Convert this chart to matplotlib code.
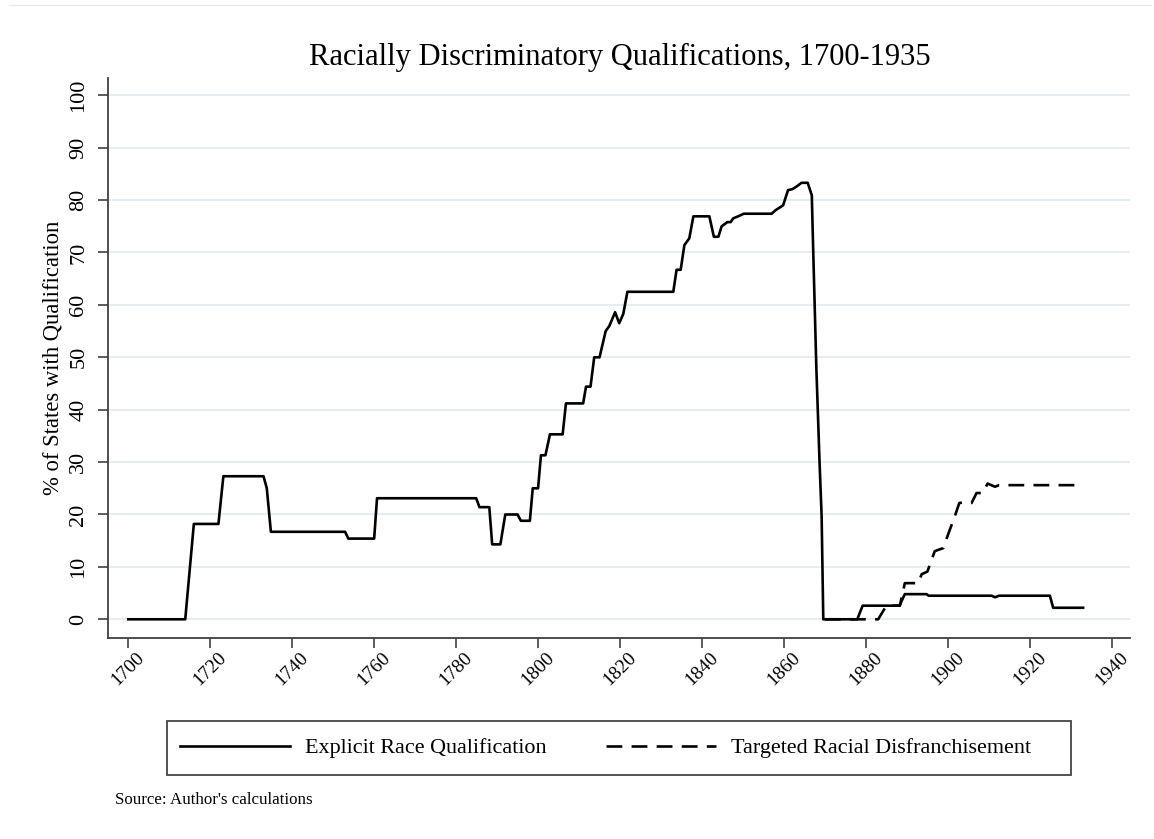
import matplotlib
matplotlib.use("Agg")
import matplotlib.pyplot as plt
from matplotlib.lines import Line2D
from matplotlib.patches import Rectangle

# values
explicit_years = [1700, 1713.9, 1716, 1722, 1723.2, 1733, 1733.8, 1734.8, 1752.9, 1753.7,
                  1760, 1760.7, 1784.9, 1785.7, 1788.1, 1788.8, 1790.8, 1792, 1795, 1795.8,
                  1798, 1798.7, 1800, 1800.7, 1801.8, 1802.9, 1806, 1806.8, 1811, 1811.7,
                  1812.8, 1813.7, 1815, 1816.5, 1817.4, 1818.8, 1819.8, 1820.8, 1821.8, 1833,
                  1833.8, 1834.8, 1835.7, 1836.9, 1837.9, 1841.8, 1842.9, 1844, 1844.8, 1846.2,
                  1847, 1847.6, 1849.1, 1850.2, 1857, 1858, 1859.8, 1861, 1862.1, 1863.1,
                  1864.3, 1865.8, 1866.8, 1867.1, 1867.9, 1868.7, 1869.2, 1869.6, 1877.9, 1879.2,
                  1888.2, 1889.5, 1894.8, 1895.3, 1910.7, 1911.5, 1912.5, 1924.9, 1925.7, 1933]
explicit_pct = [0, 0, 18.2, 18.2, 27.3, 27.3, 25.0, 16.7, 16.7, 15.4,
                15.4, 23.1, 23.1, 21.4, 21.4, 14.3, 14.3, 20.0, 20.0, 18.8,
                18.8, 25.0, 25.0, 31.3, 31.3, 35.3, 35.3, 41.2, 41.2, 44.4,
                44.4, 50.0, 50.0, 55.0, 56.0, 58.6, 56.5, 58.3, 62.5, 62.5,
                66.7, 66.7, 71.4, 72.7, 76.9, 76.9, 73.0, 73.0, 75.0, 75.8,
                75.8, 76.5, 77.0, 77.4, 77.4, 78.1, 79.0, 81.9, 82.1, 82.6,
                83.3, 83.3, 80.9, 71.7, 48.2, 29.8, 19.6, 0, 0, 2.6,
                2.6, 4.8, 4.8, 4.5, 4.5, 4.2, 4.5, 4.5, 2.2, 2.2]

targeted_years = [1870, 1883, 1885, 1888.3, 1889.5, 1892.8, 1893.6, 1895.0, 1896.8, 1898.9,
                  1899.6, 1901.8, 1902.8, 1903.9, 1905.8, 1907, 1908.5, 1909.7, 1911.5, 1912.5,
                  1933]
targeted_pct = [0, 0, 2.6, 2.6, 6.9, 6.9, 8.6, 9.1, 13.0, 13.6,
                15.2, 19.9, 22.2, 22.3, 22.2, 24.1, 24.1, 25.9, 25.3, 25.6,
                25.6]

x_ticks = list(range(1700, 1941, 20))
y_ticks = list(range(0, 101, 10))

plt.rcParams['font.family'] = ['Liberation Serif', 'DejaVu Serif']

fig = plt.figure(figsize=(11.54, 8.39), dpi=100)
ax = fig.add_axes([108 / 1154, 1 - 638 / 839, 1022 / 1154, 560 / 839])

for y in y_ticks:
    ax.axhline(y, color='#e4ecef', linewidth=1.3, zorder=0)

ax.plot(explicit_years, explicit_pct, color='black', linewidth=1.9,
        label='Explicit Race Qualification', zorder=3)
ax.plot(targeted_years, targeted_pct, color='black', linewidth=1.9,
        linestyle=(0, (6, 3.5)), label='Targeted Racial Disfranchisement', zorder=3)

ax.set_xlim(1695.05, 1944.45)
ax.set_ylim(-3.57, 103.3)
ax.set_xticks(x_ticks)
ax.set_yticks(y_ticks)
ax.set_xticklabels([str(t) for t in x_ticks], rotation=45, ha='center', va='top', fontsize=14)
ax.set_yticklabels([str(t) for t in y_ticks], rotation=90, va='center', fontsize=16)
ax.tick_params(axis='both', direction='out', length=7.2, width=1.2, color='#404040')
ax.tick_params(axis='x', pad=1)
ax.tick_params(axis='y', pad=7)

for side in ['top', 'right']:
    ax.spines[side].set_visible(False)
for side in ['left', 'bottom']:
    ax.spines[side].set_color('#404040')
    ax.spines[side].set_linewidth(1.3)

ax.set_ylabel('% of States with Qualification', fontsize=16.3, labelpad=4)

fig.text(620 / 1154, 1 - 57 / 839, 'Racially Discriminatory Qualifications, 1700-1935',
         ha='center', va='center', fontsize=22)

# legend box drawn separately so its size matches the original
fig.add_artist(Rectangle((167 / 1154, 1 - 775 / 839), 904 / 1154, 54 / 839,
                         transform=fig.transFigure, fill=False,
                         edgecolor='#444444', linewidth=1.3))
fig.legend(loc='center left', ncol=2, bbox_to_anchor=(180 / 1154, 1 - 748 / 839),
           borderaxespad=0, borderpad=0, fontsize=15.9, handlelength=4.98,
           handletextpad=0.68, columnspacing=2.7, frameon=False)

fig.text(115 / 1154, 1 - 800 / 839, "Source: Author's calculations",
         ha='left', va='center', fontsize=12.2)

fig.add_artist(Line2D([0.008, 0.997], [1 - 5 / 839, 1 - 5 / 839], color='#e6ecee', linewidth=1))

fig.savefig('out.png', dpi=100)
